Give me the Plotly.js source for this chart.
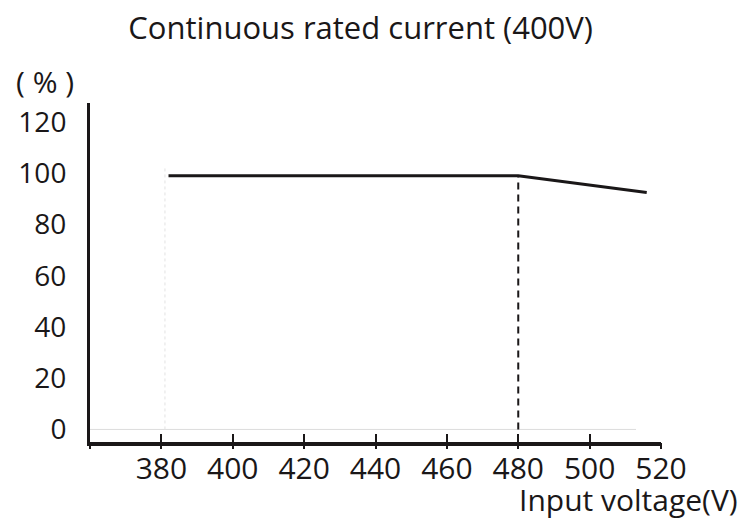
<!DOCTYPE html>
<html>
<head>
<meta charset="utf-8">
<script src="https://cdn.plot.ly/plotly-3.0.1.min.js"></script>
<style>html,body{margin:0;padding:0;background:#fff;}#chart{width:742px;height:519px;}</style>
</head>
<body>
<div id="chart"></div>
<script>
// Data
const voltage = [382, 480, 516];          // input voltage (V)
const ratedCurrent = [99, 99, 92.5];      // continuous rated current (%)
const markerVoltage = [480, 480];         // dashed reference at 480 V
const markerLevel = [0, 99];
const xTickVals = [360, 380, 400, 420, 440, 460, 480, 500, 520];
const xTickText = ['', '380', '400', '420', '440', '460', '480', '500', '520'];
const yTickVals = [0, 20, 40, 60, 80, 100, 120];
const ghostBaseX = [357, 513];            // faint scan baseline
const ghostBaseY = [0, 0];
const ghostVertX = [381, 381];            // faint dotted guide
const ghostVertY = [0, 102];

const fontFam = '"Open Sans", "Noto Sans", sans-serif';
const ink = '#1a1718';

const traces = [
  {x: ghostBaseX, y: ghostBaseY, mode: 'lines', line: {color: '#dcdcdc', width: 1}, hoverinfo: 'skip', showlegend: false},
  {x: ghostVertX, y: ghostVertY, mode: 'lines', line: {color: '#e2e2e2', width: 1, dash: 'dot'}, hoverinfo: 'skip', showlegend: false},
  {x: markerVoltage, y: markerLevel, mode: 'lines', line: {color: ink, width: 2, dash: '7px,5px'}, showlegend: false},
  {x: voltage, y: ratedCurrent, mode: 'lines', line: {color: ink, width: 3}, showlegend: false},
  {x: [360], y: [0], xaxis: 'x2', mode: 'markers', marker: {opacity: 0}, hoverinfo: 'skip', showlegend: false}
];

const layout = {
  width: 742, height: 519,
  paper_bgcolor: '#fff', plot_bgcolor: '#fff',
  margin: {l: 90, r: 81, t: 103, b: 77},
  font: {family: fontFam, color: ink},
  title: {text: 'Continuous rated current (400V)', font: {family: fontFam, size: 31, color: ink},
          x: 0.474, xref: 'paper', xanchor: 'center', y: 0.945, yref: 'container', yanchor: 'middle'},
  xaxis: {
    range: [360, 520], tickvals: xTickVals, ticktext: xTickText,
    showgrid: false, zeroline: false,
    showline: true, linecolor: ink, linewidth: 4,
    ticks: 'inside', ticklen: 8, tickwidth: 2, tickcolor: ink,
    ticklabelstandoff: -3,
    tickfont: {family: fontFam, size: 30, color: ink}
  },
  xaxis2: {
    overlaying: 'x', range: [360, 520], tickvals: xTickVals, showticklabels: false,
    showgrid: false, zeroline: false, showline: false,
    ticks: 'outside', ticklen: 6, tickwidth: 2, tickcolor: ink, side: 'bottom'
  },
  yaxis: {
    range: [-4.9, 127.4], tickvals: yTickVals,
    showgrid: false, zeroline: false,
    showline: true, linecolor: ink, linewidth: 3,
    ticks: '', ticklabelstandoff: 15,
    tickfont: {family: fontFam, size: 28, color: ink}
  },
  annotations: [
    {text: '( % )', xref: 'paper', yref: 'paper', x: -0.079, y: 1.0, xanchor: 'center', yanchor: 'middle',
     yshift: 22, showarrow: false, font: {family: fontFam, size: 30, color: ink}},
    {text: 'Input voltage(V)', xref: 'paper', yref: 'paper', x: 1.138, y: 0, xanchor: 'right', yanchor: 'middle',
     yshift: -57, showarrow: false, font: {family: fontFam, size: 30, color: ink}}
  ]
};

Plotly.newPlot('chart', traces, layout, {staticPlot: true, displayModeBar: false});
</script>
</body>
</html>
